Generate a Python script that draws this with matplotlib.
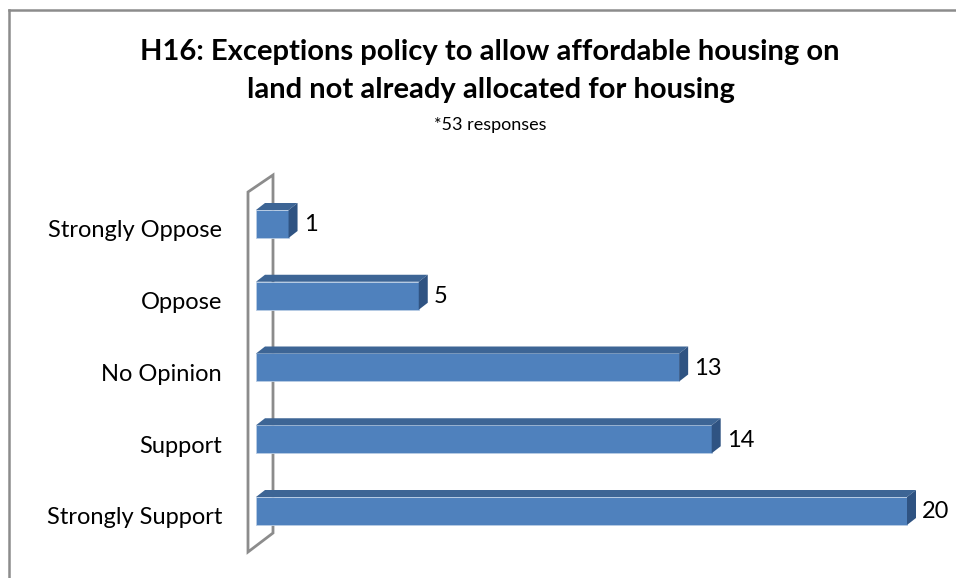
import matplotlib.pyplot as plt
from matplotlib.patches import Polygon
from matplotlib.lines import Line2D

categories = ['Strongly Oppose', 'Oppose', 'No Opinion', 'Support', 'Strongly Support']
counts = [1, 5, 13, 14, 20]
title_lines = ['H16: Exceptions policy to allow affordable housing on',
               'land not already allocated for housing']
subtitle = '*53 responses'

W, H = 956, 578
plt.rcParams['font.family'] = ['Lato', 'DejaVu Sans']

fig = plt.figure(figsize=(W / 100, H / 100), dpi=100)
ax = fig.add_axes([0, 0, 1, 1])

# one axes over the whole canvas: x in answer counts, y in category rows
x0_px, px_per_unit = 256, 32.55
y0_px, px_per_row = 224, 71.75
ax.set_xlim(-x0_px / px_per_unit, (W - x0_px) / px_per_unit)
ax.set_ylim((H - y0_px) / px_per_row, -y0_px / px_per_row)
ax.axis('off')

# 3d look: depth offset and bar thickness
dx = 9 / px_per_unit
dy = 7 / px_per_row
hh = 14 / px_per_row

front_c = '#4f81bd'
top_c = '#3d6595'
side_c = '#2f5382'

# back wall outline
wx0, wx1 = -8 / px_per_unit, 17 / px_per_unit
wall = Polygon([(wx0, -32 / px_per_row), (wx1, -49 / px_per_row),
                (wx1, 309 / px_per_row), (wx0, 328 / px_per_row)],
               closed=True, fill=False, edgecolor='#8c8c8c', lw=2, zorder=1)
ax.add_patch(wall)

for i, (cat, v) in enumerate(zip(categories, counts)):
    top, bot = i - hh, i + hh
    ax.add_patch(Polygon([(0, top), (v, top), (v, bot), (0, bot)],
                         closed=True, facecolor=front_c, edgecolor='#b9cde5',
                         lw=0.6, zorder=3))
    ax.add_patch(Polygon([(0, top), (v, top), (v + dx, top - dy), (dx, top - dy)],
                         closed=True, facecolor=top_c, edgecolor='none', zorder=3))
    ax.add_patch(Polygon([(v, top), (v + dx, top - dy), (v + dx, bot - dy), (v, bot)],
                         closed=True, facecolor=side_c, edgecolor='none', zorder=3))
    ax.text(v + dx + 6 / px_per_unit, i + 1 / px_per_row, str(v),
            ha='left', va='center', fontsize=17, color='black')
    ax.text(-34 / px_per_unit, i + 7 / px_per_row, cat,
            ha='right', va='center', fontsize=17, color='black')

fig.text(490 / W, 1 - 52 / H, title_lines[0], ha='center', va='center',
         fontsize=21, fontweight='bold')
fig.text(491 / W, 1 - 90 / H, title_lines[1], ha='center', va='center',
         fontsize=21, fontweight='bold')
fig.text(490 / W, 1 - 125 / H, subtitle, ha='center', va='center', fontsize=13)

# chart area frame
fig.add_artist(Line2D([9 / W, 1], [1 - 10 / H, 1 - 10 / H],
                      transform=fig.transFigure, color='#8c8c8c', lw=1.8))
fig.add_artist(Line2D([9 / W, 9 / W], [0, 1 - 10 / H],
                      transform=fig.transFigure, color='#8c8c8c', lw=1.8))

fig.savefig('out.png', dpi=100)
